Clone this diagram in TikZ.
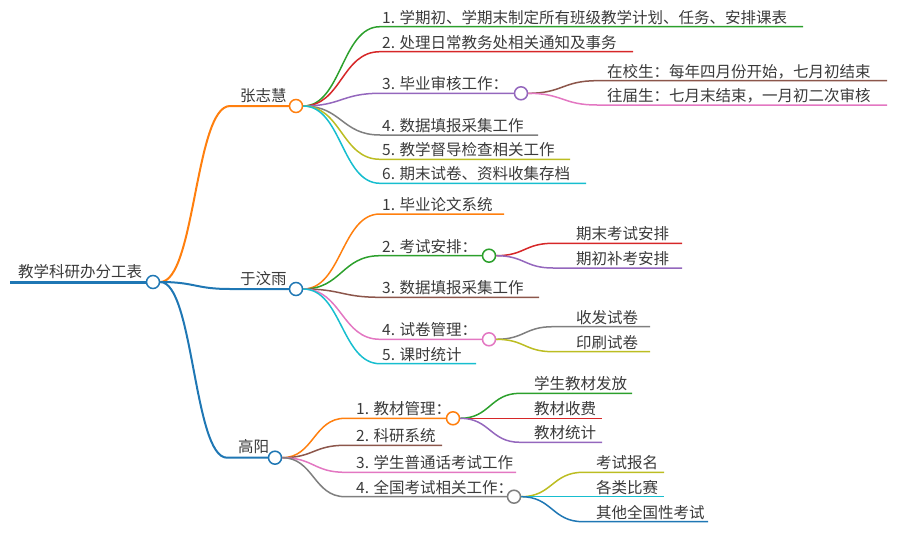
\documentclass[tikz,border=0pt]{standalone}
\usepackage{fontspec}
\setmainfont{Noto Sans CJK SC}
\usepackage{tikz}
\usetikzlibrary{calc}
\definecolor{cBlue}{HTML}{1F77B4}
\definecolor{cOrange}{HTML}{FF7F0E}
\definecolor{cGreen}{HTML}{2CA02C}
\definecolor{cRed}{HTML}{D62728}
\definecolor{cPurple}{HTML}{9467BD}
\definecolor{cBrown}{HTML}{8C564B}
\definecolor{cPink}{HTML}{E377C2}
\definecolor{cGray}{HTML}{7F7F7F}
\definecolor{cOlive}{HTML}{BCBD22}
\definecolor{cCyan}{HTML}{17BECF}
\definecolor{txt}{HTML}{3A3A3A}
\tikzset{
dot/.style={circle, draw, fill=white, line width=1.5pt, minimum size=13pt, inner sep=0pt},
lbl/.style={anchor=base west, inner sep=0pt, text=txt, font=\fontsize{15.5}{18}\selectfont},
main/.style={line width=2pt},
leaf/.style={line width=1.5pt},
sbend/.style={to path={let \p1=(\tikztostart), \p2=(\tikztotarget) in
  .. controls ({(\x1+\x2)/2},\y1) and ({(\x1+\x2)/2},\y2) .. (\tikztotarget)}}
}

\begin{document}
\begin{tikzpicture}[x=1pt, y=-1pt]
            \useasboundingbox (0,0) rectangle (906,538);
            % root
            \coordinate (r0) at (10,282);
            \node[dot, draw=cBlue] (rc) at (153,282) {};
            \node[lbl] (rt) at (18,277) {教学科研办分工表};
            \draw[cBlue, line width=3pt] (r0) -- (rc);

            % 张志慧
            \coordinate (zs) at (230,106);
            \node[dot, draw=cOrange] (zc) at (296,106) {};
            \node[lbl] (zt) at (240,101) {张志慧};
            \draw[cOrange, main] (rc.east) to[sbend] (zs) -- (zc);

            \coordinate (z1s) at (380,26.7);
            \coordinate (z1e) at (803,26.7);
            \node[lbl] (z1) at (382,23.2) {1. 学期初、学期末制定所有班级教学计划、任务、安排课表};
            \draw[cGreen, leaf] (zc.east) to[sbend] (z1s) -- (z1e);

            \coordinate (z2s) at (380,51.7);
            \coordinate (z2e) at (633,51.7);
            \node[lbl] (z2) at (382,48.2) {2. 处理日常教务处相关通知及事务};
            \draw[cRed, leaf] (zc.east) to[sbend] (z2s) -- (z2e);

            \coordinate (z3s) at (380,93.3);
            \node[dot, draw=cPurple] (z3c) at (521,93.3) {};
            \node[lbl] (z3) at (382,89.8) {3. 毕业审核工作：};
            \draw[cPurple, leaf] (zc.east) to[sbend] (z3s) -- (z3c);

            \coordinate (z3as) at (597,80.7);
            \coordinate (z3ae) at (887,80.7);
            \node[lbl] (z3a) at (607,77.2) {在校生：每年四月份开始，七月初结束};
            \draw[cBrown, leaf] (z3c.east) to[sbend] (z3as) -- (z3ae);

            \coordinate (z3bs) at (597,105);
            \coordinate (z3be) at (887,105);
            \node[lbl] (z3b) at (607,101.5) {往届生：七月末结束，一月初二次审核};
            \draw[cPink, leaf] (z3c.east) to[sbend] (z3bs) -- (z3be);

            \coordinate (z4s) at (380,135);
            \coordinate (z4e) at (538,135);
            \node[lbl] (z4) at (382,131.5) {4. 数据填报采集工作};
            \draw[cGray, leaf] (zc.east) to[sbend] (z4s) -- (z4e);

            \coordinate (z5s) at (380,159.3);
            \coordinate (z5e) at (570,159.3);
            \node[lbl] (z5) at (382,155.8) {5. 教学督导检查相关工作};
            \draw[cOlive, leaf] (zc.east) to[sbend] (z5s) -- (z5e);

            \coordinate (z6s) at (380,183.3);
            \coordinate (z6e) at (586,183.3);
            \node[lbl] (z6) at (382,179.8) {6. 期末试卷、资料收集存档};
            \draw[cCyan, leaf] (zc.east) to[sbend] (z6s) -- (z6e);

            % 于汶雨
            \coordinate (ys) at (230,289);
            \node[dot, draw=cBlue] (yc) at (296,289) {};
            \node[lbl] (yt) at (240,284) {于汶雨};
            \draw[cBlue, main] (rc.east) to[sbend] (ys) -- (yc);

            \coordinate (y1s) at (380,214);
            \coordinate (y1e) at (504,214);
            \node[lbl] (y1) at (382,210.5) {1. 毕业论文系统};
            \draw[cOrange, leaf] (yc.east) to[sbend] (y1s) -- (y1e);

            \coordinate (y2s) at (380,255.7);
            \node[dot, draw=cGreen] (y2c) at (489,255.7) {};
            \node[lbl] (y2) at (382,252.2) {2. 考试安排：};
            \draw[cGreen, leaf] (yc.east) to[sbend] (y2s) -- (y2c);

            \coordinate (y2as) at (553,243.3);
            \coordinate (y2ae) at (682,243.3);
            \node[lbl] (y2a) at (576,239.8) {期末考试安排};
            \draw[cRed, leaf] (y2c.east) to[sbend] (y2as) -- (y2ae);

            \coordinate (y2bs) at (553,268);
            \coordinate (y2be) at (682,268);
            \node[lbl] (y2b) at (576,264.5) {期初补考安排};
            \draw[cPurple, leaf] (y2c.east) to[sbend] (y2bs) -- (y2be);

            \coordinate (y3s) at (380,297.3);
            \coordinate (y3e) at (539,297.3);
            \node[lbl] (y3) at (382,293.8) {3. 数据填报采集工作};
            \draw[cBrown, leaf] (yc.east) to[sbend] (y3s) -- (y3e);

            \coordinate (y4s) at (380,339.3);
            \node[dot, draw=cPink] (y4c) at (489,339.3) {};
            \node[lbl] (y4) at (382,335.8) {4. 试卷管理：};
            \draw[cPink, leaf] (yc.east) to[sbend] (y4s) -- (y4c);

            \coordinate (y4as) at (553,326.7);
            \coordinate (y4ae) at (650,326.7);
            \node[lbl] (y4a) at (576,323.2) {收发试卷};
            \draw[cGray, leaf] (y4c.east) to[sbend] (y4as) -- (y4ae);

            \coordinate (y4bs) at (553,351.7);
            \coordinate (y4be) at (650,351.7);
            \node[lbl] (y4b) at (576,348.2) {印刷试卷};
            \draw[cOlive, leaf] (y4c.east) to[sbend] (y4bs) -- (y4be);

            \coordinate (y5s) at (380,363.7);
            \coordinate (y5e) at (476,363.7);
            \node[lbl] (y5) at (382,360.2) {5. 课时统计};
            \draw[cCyan, leaf] (yc.east) to[sbend] (y5s) -- (y5e);

            % 高阳
            \coordinate (gs) at (227,457.7);
            \node[dot, draw=cBlue] (gc) at (275,457.7) {};
            \node[lbl] (gt) at (238,452.7) {高阳};
            \draw[cBlue, main] (rc.east) to[sbend] (gs) -- (gc);

            \coordinate (g1s) at (345,418.3);
            \node[dot, draw=cOrange] (g1c) at (453,418.3) {};
            \node[lbl] (g1) at (356,414.8) {1. 教材管理：};
            \draw[cOrange, leaf] (gc.east) to[sbend] (g1s) -- (g1c);

            \coordinate (g1as) at (520,393.3);
            \coordinate (g1ae) at (632,393.3);
            \node[lbl] (g1a) at (534,389.8) {学生教材发放};
            \draw[cGreen, leaf] (g1c.east) to[sbend] (g1as) -- (g1ae);

            \coordinate (g1be) at (602,418.3);
            \node[lbl] (g1b) at (534,414.8) {教材收费};
            \draw[cRed, leaf] (g1c.east) -- (g1be);

            \coordinate (g1cs) at (520,442.3);
            \coordinate (g1ce) at (602,442.3);
            \node[lbl] (g1x) at (534,438.8) {教材统计};
            \draw[cPurple, leaf] (g1c.east) to[sbend] (g1cs) -- (g1ce);

            \coordinate (g2s) at (345,445.3);
            \coordinate (g2e) at (442,445.3);
            \node[lbl] (g2) at (356,441.8) {2. 科研系统};
            \draw[cBrown, leaf] (gc.east) to[sbend] (g2s) -- (g2e);

            \coordinate (g3s) at (345,472.3);
            \coordinate (g3e) at (516,472.3);
            \node[lbl] (g3) at (356,468.8) {3. 学生普通话考试工作};
            \draw[cPink, leaf] (gc.east) to[sbend] (g3s) -- (g3e);

            \coordinate (g4s) at (345,496.7);
            \node[dot, draw=cGray] (g4c) at (514,496.7) {};
            \node[lbl] (g4) at (356,493.2) {4. 全国考试相关工作：};
            \draw[cGray, leaf] (gc.east) to[sbend] (g4s) -- (g4c);

            \coordinate (g4as) at (583,472.3);
            \coordinate (g4ae) at (664,472.3);
            \node[lbl] (g4a) at (596,468.8) {考试报名};
            \draw[cOlive, leaf] (g4c.east) to[sbend] (g4as) -- (g4ae);

            \coordinate (g4be) at (664,496.7);
            \node[lbl] (g4b) at (596,493.2) {各类比赛};
            \draw[cCyan, leaf] (g4c.east) -- (g4be);

            \coordinate (g4xs) at (583,521.7);
            \coordinate (g4xe) at (708,521.7);
            \node[lbl] (g4x) at (596,518.2) {其他全国性考试};
            \draw[cBlue, leaf] (g4c.east) to[sbend] (g4xs) -- (g4xe);
        \end{tikzpicture}
\end{document}
